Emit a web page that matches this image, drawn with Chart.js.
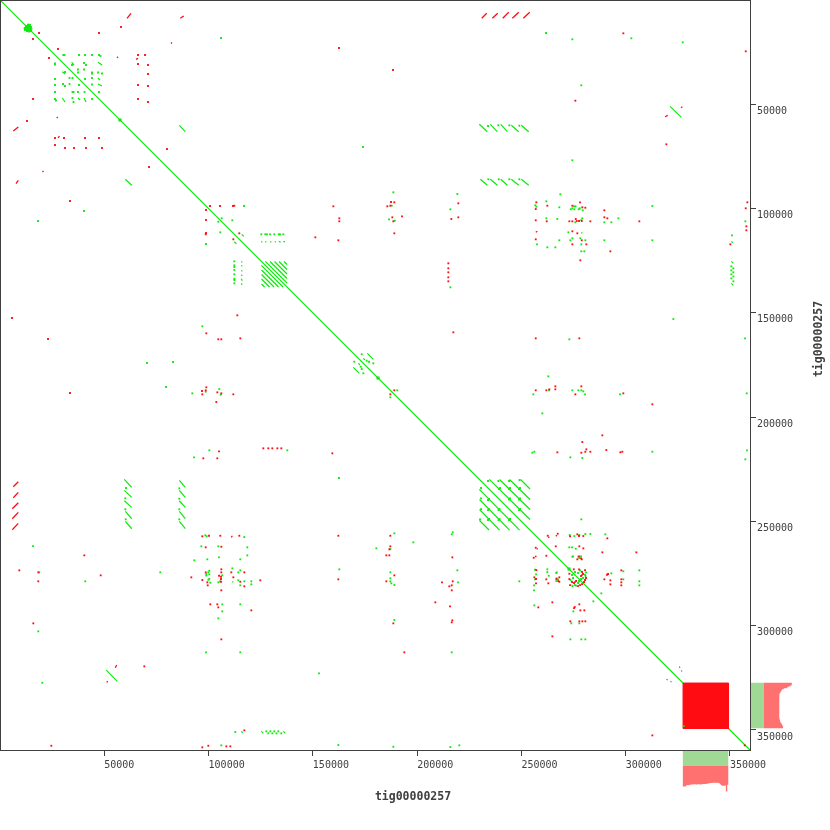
<!DOCTYPE html>
<html>
<head>
<meta charset="utf-8">
<title>tig00000257</title>
<script src="https://cdn.jsdelivr.net/npm/chart.js@4/dist/chart.umd.min.js"></script>
<style>
  body { margin: 0; background: #fff; }
  canvas { display: block; }
</style>
</head>
<body>
<canvas id="dotplot" width="830" height="830"></canvas>
<script>
// Axis
var contigName = 'tig00000257';
var axisMax = 359600;
var tickValues = [50000, 100000, 150000, 200000, 250000, 300000, 350000];

// Forward matches above the diagonal [x1, y1, x2, y2], the lower half is the mirror image
var forwardSegments = [
  [85970,60080,88850,63150],[34380,29870,35480,31170],[46990,29870,48910,31170],[46990,37400,47950,38360],
  [46990,40280,48910,41240],[321270,50970,326680,56250],
  [229820,59600,233660,63150],[235100,59600,238450,63150],[240090,59600,243250,63150],[245170,60080,248720,63150],[249960,60080,253510,63150],
  [230300,85970,233660,88850],[235100,85970,238450,88850],[240090,85970,243250,88850],[245170,85970,248720,88850],[249960,85970,253510,88850],
  [278730,111870,279210,111390],[350660,115700,351330,116380],[350660,125290,351620,126250],[350660,135840,351620,136800],
  [115890,112350,116850,113310],
  [125290,115700,125770,116180],[127210,115700,127690,116180],[129610,115700,130090,116180],[131720,115700,132200,116180],[133640,115700,134600,116180],[135840,115890,136660,115890],
  [127210,125290,137620,135700],[129470,125390,137620,133540],[131620,125390,137620,131380],[133780,125390,137620,129230],[136180,125390,137620,126830],
  [176120,169410,178990,172280],[174200,171800,175020,172620],
  [234620,229820,254140,249100],[239510,229920,254140,244300],[244300,229920,254140,239510],[249580,229920,254140,234480]
];

// Reverse matches above the diagonal [x1, y1, x2, y2]
var reverseSegments = [
  [62815,6380,60900,8770],[88080,7670,86450,8770],[82470,20380,81990,20860],[56580,27190,56100,27670],[66170,27950,65210,28430],
  [233370,6380,230980,8770],[238650,6380,236060,8770],[243920,5900,241040,8770],[248720,5900,245650,8770],[253990,5900,250920,8770],
  [327160,51160,326540,51640],[320160,55290,318870,55960],[257640,110910,256870,111390],
  [263390,257350,262910,257830],[267080,256670,266460,257150],[326060,319680,325700,320000],[327020,321600,326660,321900]
];

// Single small forward hits above the diagonal [x, y]
var forwardDots = [
  [11990,13430],[12470,12710],[13430,11990],[14150,12470],[14620,13190],[15100,13910],[14860,14860],[13910,14390],[12950,13910],[11990,14390],[12950,14860],[13910,13430],[11750,13670],[12950,12950],
  [30350,26370],[30930,26370],[37880,26370],[40760,26370],[44110,26370],[47470,26370],[48190,26850],
  [40280,30210],[41240,31170],[37400,33330],[40280,33330],[37400,34760],[44110,34760],[46990,34760],[48910,35240],
  [40760,37880],[44110,37400],[44110,40520],[47470,44110],[34520,31170],[44110,35240],
  [105970,18220],[261810,15820],[274420,18840],[302710,18360],[327350,20280],[278730,40900],[274420,76860],[117000,98780],
  [233990,60420],[238930,60080],[244210,60080],[249000,60270],[234140,85970],[239130,85970],[244210,85970],[249000,85970],
  [219280,93020],[261950,96520],[268660,93170],[312780,98780],[256670,98440],[257150,99110],[275230,98920],[275950,98920],
  [268180,99400],[273650,100360],[274420,99880],[275380,100360],[277490,100360],[277970,99880],[279410,100840],
  [296480,104670],[261950,104670],[267230,105010],[279210,104670],[275860,106590],[278730,105490],[289760,106590],[293120,106590],[357370,106110],
  [272500,111390],[268180,115220],[273460,115220],[274420,114260],[278250,114260],[280650,115220],[289760,115220],[312780,115220],
  [257490,117140],[278730,117140],[262430,118580],[266270,118580],[278730,120500],[280170,120500],[350990,112820],
  [350660,127690],[351620,128650],[350660,129610],[351620,130570],[350660,131530],[351620,132540],[350660,133450],[351620,134880],
  [322850,152960],[272980,162690],[357230,162210],[262910,180440],[263240,187150],[274420,187150],[277290,187150],[278730,187150],[279690,187630],
  [255720,189070],[280510,189070],[297290,189070],[358040,188590],[260030,198180],[255240,217070],[256200,216590],[312780,216590],[358190,215920],[273460,219280],[357370,220230],
  [125290,112350],[127210,112350],[128030,112350],[129470,112350],[131530,112350],[133640,112350],[134260,112350],[135840,112350],
  [106300,104670],[111390,105630],[187820,98630],[188590,92210],[186530,105150],[189260,105820],[215920,100360],[215920,137760],
  [173430,169890],[176940,173430],[178990,174200],[175830,172950],[190500,187150],[279210,219610],[278730,249000],
  [239270,234480],[244070,234480],[248860,234480],[244070,239510],[248860,239510],[248860,244550],
  [239750,233990],[244550,233990],[249340,233990],[244550,239030],[249340,239030],[249340,244060],
  [233990,230640],[238930,230640],[244070,230640],[249100,230160],
  [273170,256530],[275380,257010],[277770,256530],[280650,256050],[283050,256050],[290240,256200],
  [272980,262430],[274270,262430],[276050,263100],[274420,266930],[277290,266930],[277770,267560],[274750,266740],[278590,266750],
  [275710,274270],[277150,274750],[278110,273550],[279070,275710],[280510,275570],[280990,274420],[279540,277150],[278590,277630],[280750,276190],
  [293120,274900],[298870,273930],[306540,273460],[298870,277770],[306540,278730],[306540,280650],[288320,284490],
  [174060,70490]
];

// Single small reverse hits above the diagonal [x, y]
var reverseDots = [
  [18700,15820],[47470,15820],[58020,12950],[27810,23500],[66170,26370],[66170,30690],[70970,31170],[70970,35480],[66170,40760],[70970,41240],[66170,47470],[70970,48910],[69530,26370],
  [80080,71450],[100700,98780],[105490,98780],[111720,98780],[112350,98630],[298870,15970],[357560,24600],[275860,48290],[319490,69190],
  [219750,97480],[257150,97000],[278110,97000],[358330,97000],[357560,99880],[256870,100220],[262430,98630],[274420,98630],[279210,99400],[280650,99590],
  [289760,100840],[289760,104200],[291200,104670],[276050,105010],[256870,105630],[262140,106110],[272980,106110],[274420,106110],[276530,105970],[277630,105970],[278930,105970],
  [283050,106110],[306540,106110],[357850,108510],[357850,110430],[274420,110910],[276810,111870],[256870,114740],[278930,115220],[274420,117140],[281130,117140],[292640,120500],
  [278250,124810],[350180,117140],[256870,162210],[277770,162210],[278730,185230],[256870,187150],[261950,187150],[263390,186670],[275860,189070],[298870,188590],
  [288800,208730],[279210,211940],[290720,215780],[281130,215440],[280650,216590],[278730,217070],[283050,216590],[298390,216590],[267230,216880],
  [114740,111870],[159820,98920],[162690,104670],[162690,106110],[151190,113790],[162210,115220],[187150,98630],[188110,104200],[188590,106110],[189070,111870],
  [219750,104200],[216400,105010],[214960,126250],[214960,128650],[214960,130570],[214960,132970],[214960,134880],[217360,159340],
  [187480,96860],[185710,98920],[189070,97000],[192760,103710],[189070,187150],[266270,185230],[266270,186670],[312780,193860],[297430,216880],
  [266460,261950],[267420,255910],[262620,256870],[273320,257150],[276810,256200],[277630,257010],[279690,257010],[277770,261950],[279690,262910],
  [288800,264830],[305110,264830],[291200,258110],[276810,268180],[278930,268180],[277630,266750],[278590,267700],
  [275090,272980],[277630,272980],[280510,273320],[279070,274270],[278590,276190],[279540,275230],[280990,277150],[280510,278110],[280030,279070],
  [291540,275230],[291060,275570],[297910,273460],[289760,277770],[292640,278250],[297910,277770],[297910,279210],[292640,280170],[297910,280650],
  [162550,23020],[188440,33560]
];

// Hits seen on one side of the diagonal only [x, y]
var forwardSingles = [[97000,156460],[327830,348120],[40280,101170],[82950,173580],[79600,185570],[162550,229200]];
var reverseSingles = [[9250,273460],[18360,278730],[40420,266270],[91730,276810],[18360,274420],[312780,352590],[357090,357370],[33570,96380],[5750,152480]];

// Blobs sitting on the diagonal
var diagonalBlobs = [57540, 181250, 272840];

// The collapsed repeat at the end of the contig [start, end]
var repeatRange = [327500, 349300];

// Coverage panels beside the axes, one value per window
var coverageWindows = [
  327740,328220,328700,329180,329660,330140,330620,331100,331570,332050,332530,333010,333490,333970,334450,
  334930,335410,335890,336370,336850,337330,337810,338290,338770,339250,339730,340210,340690,341170,341650,
  342130,342610,343090,343570,344050,344530,345010,345490,345970,346450,346930,347410,347890,348370,348850
];
var rightCoverage = [
  28,28,27,24.8,23.3,20,18.3,17.6,17,16.5,15.8,15.7,15.6,15.6,15.6,
  15.6,15.5,15.5,15.5,15.5,15.5,15.5,15.5,15.5,15.5,15.5,15.5,15.5,15.5,15.5,
  15.5,15.5,15.5,15.5,15.5,15.6,15.8,16.3,16.3,16.8,17.6,18.3,18.6,19.3,19.3
];
var bottomCoverage = [
  20.7,20.7,20.5,19.5,19.2,19.3,19,19,18.5,18.7,18.5,18.5,18.5,18.7,18.5,
  18.5,18.5,18.7,18.5,18.2,18.2,18.2,18.2,18,17.8,17.5,17.3,17.2,17.2,17,
  17,17,17,17,17,17.2,17.3,18.5,19.3,20,20,19.8,19.5,25.7,19
];

var GREEN = 'rgb(10,235,10)';
var RED = 'rgb(255,12,18)';
var COV_GREEN = 'rgb(160,216,150)';
var COV_RED = 'rgb(255,112,112)';
var INK = '#404040';

// Where the panels start, in axis units
var panelEdge = 360000;
var panelSplit = 366200;
var panelUnit = 479.5;

var gap = { x: NaN, y: NaN };

// Turn [x1,y1,x2,y2] rows into one broken line, with the mirror image too
function segmentPoints(rows) {
  var pts = [];
  rows.forEach(function (r) {
    pts.push({ x: r[0], y: r[1] }, { x: r[2], y: r[3] }, gap);
    pts.push({ x: r[1], y: r[0] }, { x: r[3], y: r[2] }, gap);
  });
  return pts;
}

function dotPoints(rows) {
  var pts = [];
  rows.forEach(function (r) {
    pts.push({ x: r[0], y: r[1] }, { x: r[1], y: r[0] });
  });
  return pts;
}

function plainPoints(rows) {
  return rows.map(function (r) { return { x: r[0], y: r[1] }; });
}

function lineSet(points, color, width) {
  return { data: points, showLine: true, borderColor: color, borderWidth: width, pointRadius: 0, clip: false };
}

function dotSet(points, color, radius) {
  return { data: points, showLine: false, pointStyle: 'rect', pointRadius: radius, pointBorderWidth: 0, backgroundColor: color, clip: false };
}

// Rows of the panel on the right
var rightGreen = [], rightRed = [], bottomGreen = [], bottomRed = [];
coverageWindows.forEach(function (pos, i) {
  rightGreen.push({ x: panelSplit, y: pos }, { x: panelEdge, y: pos }, gap);
  rightRed.push({ x: panelSplit + rightCoverage[i] * panelUnit, y: pos }, { x: panelSplit, y: pos }, gap);
  bottomGreen.push({ x: pos, y: panelEdge }, { x: pos, y: panelSplit + 1000 }, gap);
  bottomRed.push({ x: pos, y: panelSplit + 1000 }, { x: pos, y: panelSplit + 1000 + bottomCoverage[i] * panelUnit }, gap);
});

var repeatBox = [
  { x: repeatRange[0], y: repeatRange[0] },
  { x: repeatRange[1], y: repeatRange[0] },
  { x: repeatRange[1], y: repeatRange[1] },
  { x: repeatRange[0], y: repeatRange[1] },
  { x: repeatRange[0], y: repeatRange[0] }
];

// Frame and the two axis names
var framePlugin = {
  id: 'frame',
  afterDraw: function (chart) {
    var a = chart.chartArea, c = chart.ctx;
    c.save();
    c.strokeStyle = INK;
    c.lineWidth = 1;
    c.strokeRect(a.left + 0.5, a.top + 0.5, a.right - a.left, a.bottom - a.top);
    c.fillStyle = INK;
    c.font = 'bold 11.5px "DejaVu Sans Mono"';
    c.textAlign = 'center';
    c.textBaseline = 'middle';
    c.fillText(contigName, 413, 797);
    c.translate(819, 339);
    c.rotate(-Math.PI / 2);
    c.fillText(contigName, 0, 0);
    c.restore();
  }
};

function makeAxis(position, reverse, extraTicks) {
  return {
    type: 'linear',
    position: position,
    reverse: reverse,
    min: 0,
    max: axisMax,
    afterBuildTicks: function (s) { s.ticks = tickValues.map(function (v) { return { value: v }; }); },
    afterFit: function (s) {
      if (s.isHorizontal()) { s.height = 80; } else { s.width = 80; }
      // tick labels should not pull the plot away from the page edge
      s.paddingLeft = s.paddingRight = s.paddingTop = s.paddingBottom = 0;
    },
    border: { display: false },
    grid: { drawOnChartArea: false, drawTicks: true, tickLength: 6, color: INK, lineWidth: 1 },
    ticks: Object.assign({
      color: INK,
      font: { family: '"DejaVu Sans Mono"', size: 10 },
      autoSkip: false,
      maxRotation: 0,
      callback: function (v) { return String(v); }
    }, extraTicks)
  };
}

new Chart(document.getElementById('dotplot').getContext('2d'), {
  type: 'scatter',
  data: {
    datasets: [
      dotSet(plainPoints(forwardSingles), GREEN, 1.3),
      Object.assign(lineSet(repeatBox, RED, 1), { fill: 'shape', backgroundColor: RED }),
      lineSet(rightRed, COV_RED, 1.4),
      lineSet(rightGreen, COV_GREEN, 1.4),
      lineSet(bottomRed, COV_RED, 1.4),
      lineSet(bottomGreen, COV_GREEN, 1.4),
      dotSet(plainPoints(reverseSingles), RED, 1.3),
      lineSet(segmentPoints(reverseSegments), RED, 1.3),
      dotSet(dotPoints(reverseDots), RED, 1.3),
      dotSet(diagonalBlobs.map(function (v) { return { x: v, y: v }; }), GREEN, 2.2),
      lineSet(segmentPoints(forwardSegments), GREEN, 1.2),
      dotSet(dotPoints(forwardDots), GREEN, 1.3),
      lineSet([{ x: 0, y: 0 }, { x: axisMax, y: axisMax }], GREEN, 1.2)
    ]
  },
  options: {
    responsive: false,
    animation: false,
    devicePixelRatio: 1,
    layout: { autoPadding: false, padding: 0 },
    plugins: { legend: { display: false }, tooltip: { enabled: false } },
    scales: {
      x: makeAxis('bottom', false, { align: 'start', padding: 3 }),
      y: makeAxis('right', true, { labelOffset: 7, padding: 1 })
    }
  },
  plugins: [framePlugin]
});
</script>
</body>
</html>
